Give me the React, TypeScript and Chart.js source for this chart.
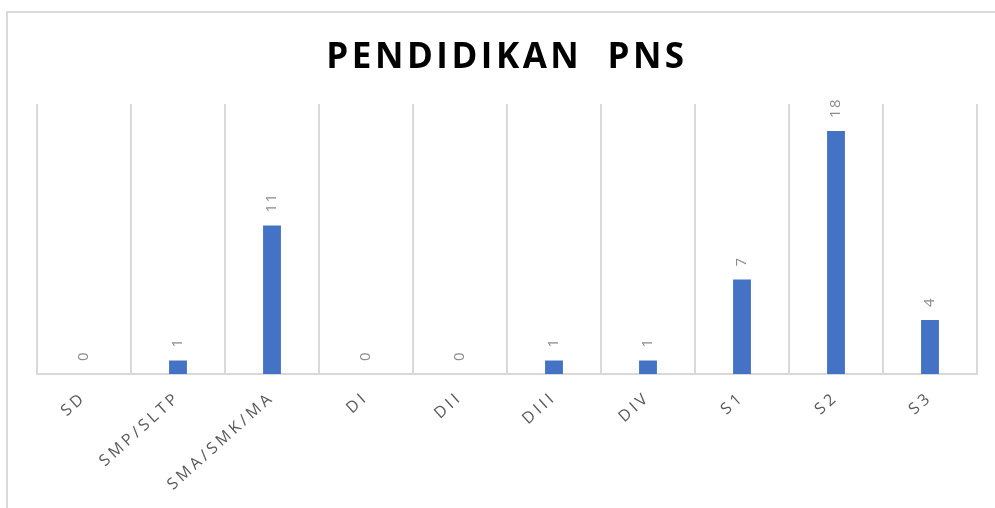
import React, { useEffect, useRef } from "react";
import { Chart, registerables } from "chart.js";

Chart.register(...registerables);

const titleText = "PENDIDIKAN  PNS";
const categories = ["SD", "SMP/SLTP", "SMA/SMK/MA", "DI", "DII", "DIII", "DIV", "S1", "S2", "S3"];
const values = [0, 1, 11, 0, 0, 1, 1, 7, 18, 4];
const yMin = 0;
const yMax = 20;

const FONT = '"Open Sans", "Noto Sans", sans-serif';

const spacingPlugin = {
  id: "spacing",
  beforeLayout(chart: any) {
    chart.ctx.letterSpacing = "3.5px";
  },
  beforeDraw(chart: any) {
    chart.ctx.letterSpacing = "3.5px";
  },
};

const dataLabelPlugin = {
  id: "dataLabels",
  afterDatasetsDraw(chart: any) {
    const ctx = chart.ctx;
    const meta = chart.getDatasetMeta(0);
    ctx.save();
    ctx.letterSpacing = "1.5px";
    ctx.font = `15px ${FONT}`;
    ctx.fillStyle = "#8c8c8c";
    meta.data.forEach((bar: any, i: number) => {
      const { x, y } = bar.getProps(["x", "y"], true);
      ctx.save();
      ctx.translate(x, y - 13);
      ctx.rotate(-Math.PI / 2);
      ctx.textAlign = "left";
      ctx.textBaseline = "middle";
      ctx.fillText(String(values[i]), 0, 0);
      ctx.restore();
    });
    ctx.restore();
  },
};

const titlePlugin = {
  id: "spacedTitle",
  afterDraw(chart: any) {
    const ctx = chart.ctx;
    const area = chart.chartArea;
    ctx.save();
    ctx.letterSpacing = "3.5px";
    ctx.font = `bold 35px ${FONT}`;
    ctx.fillStyle = "#000000";
    ctx.textAlign = "center";
    ctx.textBaseline = "alphabetic";
    ctx.fillText(titleText, (area.left + area.right) / 2, 68);
    ctx.restore();
  },
};

export default function App() {
  const ref = useRef<HTMLCanvasElement | null>(null);

  useEffect(() => {
    if (!ref.current) return;
    const chart = new Chart(ref.current, {
      type: "bar",
      data: {
        labels: categories,
        datasets: [
          {
            data: values,
            backgroundColor: "#4472C4",
            barPercentage: 0.19,
            categoryPercentage: 1,
          },
        ],
      },
      options: {
        animation: false,
        responsive: false,
        maintainAspectRatio: false,
        layout: { padding: { left: 37, right: 18, top: 104, bottom: 0 } },
        plugins: {
          legend: { display: false },
          title: { display: false },
          tooltip: { enabled: false },
        },
        scales: {
          x: {
            offset: true,
            grid: { color: "#d9d9d9", lineWidth: 2, drawTicks: false, offset: true },
            border: { color: "#d9d9d9", width: 2 },
            ticks: {
              color: "#595959",
              font: { family: FONT, size: 16 },
              minRotation: 42,
              maxRotation: 42,
              autoSkip: false,
              padding: 14,
            },
            afterFit(scale: any) {
              scale.height = 134;
            },
          },
          y: {
            display: false,
            min: yMin,
            max: yMax,
          },
        },
      },
      plugins: [spacingPlugin, dataLabelPlugin, titlePlugin],
    } as any);
    return () => chart.destroy();
  }, []);

  return (
    <div style={{ position: "fixed", left: 0, top: 0, width: 995, height: 508, background: "#fff", overflow: "hidden" }}>
      <div
        style={{
          position: "absolute",
          left: 6,
          top: 11,
          width: 1010,
          height: 520,
          border: "2px solid #d9d9d9",
        }}
      />
      <canvas ref={ref} width={995} height={508} style={{ position: "absolute", left: 0, top: 0, width: 995, height: 508 }} />
    </div>
  );
}
